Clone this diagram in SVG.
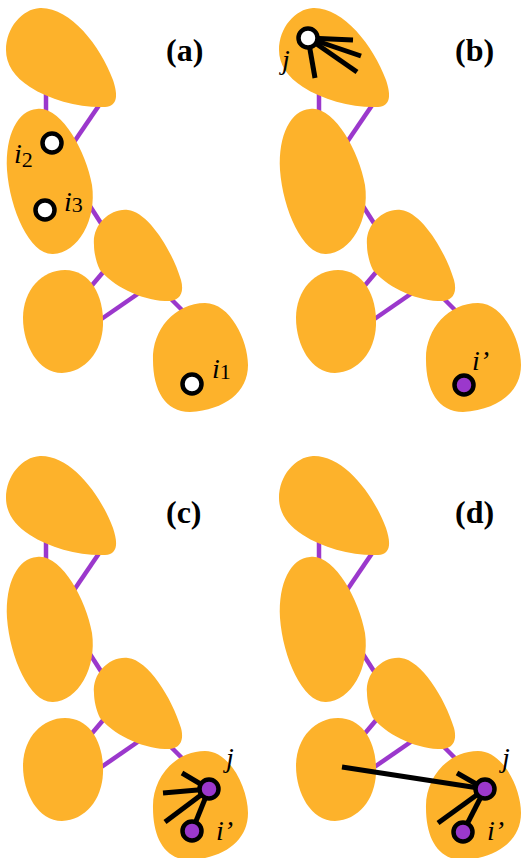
<svg xmlns="http://www.w3.org/2000/svg" xmlns:xlink="http://www.w3.org/1999/xlink" width="521" height="858" viewBox="0 0 521 858">
<style>
.blob{fill:#fdb22b}
.edge{stroke:#9b38cc;stroke-width:4.5;fill:none}
.ray{stroke:#000;stroke-width:5;fill:none}
.nw{fill:#fff;stroke:#000;stroke-width:4.5}
.np{fill:#9b38cc;stroke:#000;stroke-width:4.5}
.lbl{font-family:"Liberation Serif","Times New Roman",serif;font-style:italic;font-size:28px;fill:#000}
.sub{font-style:normal;font-size:22px}
.ttl{font-family:"Liberation Serif","Times New Roman",serif;font-weight:bold;font-size:32px;fill:#000}
</style>
<defs>
<path id="s1" d="M 6,50 C 6,28 22,9 40,8 C 70,7 100,45 113,80 C 118,95 118,106 105,107 C 80,108 50,100 30,87 C 14,77 6,64 6,50 Z"/>
<path id="s2" d="M 37,109 C 60,105 86,150 92,185 C 97,220 78,253 53,254 C 30,255 10,210 7,170 C 5,135 18,110 37,109 Z"/>
<path id="s3" d="M 94,245 C 92,225 110,208 128,210 C 148,212 172,250 181,280 C 185,295 178,302 165,301 C 140,300 112,285 100,270 C 96,262 94,252 94,245 Z"/>
<path id="s4" d="M 23,318 C 23,290 42,270 65,270 C 90,270 104,295 103,325 C 102,352 85,372 62,373 C 38,373 23,345 23,318 Z"/>
<path id="s5" d="M 153,360 C 152,330 175,303 205,303 C 230,303 248,340 248,365 C 248,392 225,410 190,412 C 165,412 153,390 153,360 Z"/>
<g id="edgeset">
<line x1="46" y1="90" x2="46" y2="115"/>
<line x1="104" y1="98" x2="72" y2="145"/>
<line x1="88" y1="203" x2="106" y2="231"/>
<line x1="110" y1="264" x2="88" y2="290"/>
<line x1="100" y1="320" x2="142" y2="291"/>
<line x1="165" y1="293" x2="187" y2="315"/>
</g>
</defs>

<g id="connectors" class="edge">
<use xlink:href="#edgeset"/>
<use xlink:href="#edgeset" transform="translate(273,0)"/>
<use xlink:href="#edgeset" transform="translate(0,448)"/>
<use xlink:href="#edgeset" transform="translate(273,448)"/>
</g>

<g id="panel-a">
<g id="a-n1" class="blob"><use xlink:href="#s1"/></g>
<g id="a-n2" class="blob"><use xlink:href="#s2"/></g>
<g id="a-n3" class="blob"><use xlink:href="#s3"/></g>
<g id="a-n4" class="blob"><use xlink:href="#s4"/></g>
<g id="a-n5" class="blob"><use xlink:href="#s5"/></g>
</g>
<g id="panel-b" transform="translate(273,0)">
<g id="b-n1" class="blob"><use xlink:href="#s1"/></g>
<g id="b-n2" class="blob"><use xlink:href="#s2"/></g>
<g id="b-n3" class="blob"><use xlink:href="#s3"/></g>
<g id="b-n4" class="blob"><use xlink:href="#s4"/></g>
<g id="b-n5" class="blob"><use xlink:href="#s5"/></g>
</g>
<g id="panel-c" transform="translate(0,448)">
<g id="c-n1" class="blob"><use xlink:href="#s1"/></g>
<g id="c-n2" class="blob"><use xlink:href="#s2"/></g>
<g id="c-n3" class="blob"><use xlink:href="#s3"/></g>
<g id="c-n4" class="blob"><use xlink:href="#s4"/></g>
<g id="c-n5" class="blob"><use xlink:href="#s5"/></g>
</g>
<g id="panel-d" transform="translate(273,448)">
<g id="d-n1" class="blob"><use xlink:href="#s1"/></g>
<g id="d-n2" class="blob"><use xlink:href="#s2"/></g>
<g id="d-n3" class="blob"><use xlink:href="#s3"/></g>
<g id="d-n4" class="blob"><use xlink:href="#s4"/></g>
<g id="d-n5" class="blob"><use xlink:href="#s5"/></g>
</g>

<g id="links" class="ray">
<line x1="308" y1="38" x2="353" y2="40"/>
<line x1="308" y1="38" x2="361" y2="56"/>
<line x1="308" y1="38" x2="357" y2="72"/>
<line x1="308" y1="38" x2="315" y2="78"/>
<line x1="209" y1="789" x2="182" y2="773"/>
<line x1="209" y1="789" x2="163" y2="793"/>
<line x1="209" y1="789" x2="165" y2="822"/>
<line x1="209" y1="789" x2="192" y2="831"/>
<line x1="485" y1="789" x2="342" y2="767"/>
<line x1="485" y1="789" x2="457" y2="773"/>
<line x1="485" y1="789" x2="438" y2="823"/>
<line x1="485" y1="789" x2="463" y2="832"/>
</g>

<g id="node-i2"><circle class="nw" cx="52" cy="143" r="9.5"/><text class="lbl" x="14" y="163">i<tspan class="sub" dy="4">2</tspan></text></g>
<g id="node-i3"><circle class="nw" cx="45" cy="210" r="9.5"/><text class="lbl" x="64" y="211">i<tspan class="sub" dy="1">3</tspan></text></g>
<g id="node-i1"><circle class="nw" cx="192" cy="384" r="9.5"/><text class="lbl" x="212" y="378">i<tspan class="sub" dy="1">1</tspan></text></g>
<g id="node-b-j"><circle class="nw" cx="308" cy="38" r="9.5"/><text class="lbl" x="282" y="69">j</text></g>
<g id="node-b-i"><circle class="np" cx="464" cy="385" r="9.5"/><text class="lbl" x="472" y="370">i’</text></g>
<g id="node-c-j"><circle class="np" cx="209" cy="789" r="9.5"/><text class="lbl" x="226" y="767">j</text></g>
<g id="node-c-i"><circle class="np" cx="192" cy="831" r="9.5"/><text class="lbl" x="216" y="840">i’</text></g>
<g id="node-d-j"><circle class="np" cx="485" cy="789" r="9.5"/><text class="lbl" x="502" y="767">j</text></g>
<g id="node-d-i"><circle class="np" cx="463" cy="832" r="9.5"/><text class="lbl" x="487" y="840">i’</text></g>

<text class="ttl" x="166" y="61">(a)</text>
<text class="ttl" x="455" y="61">(b)</text>
<text class="ttl" x="166" y="523">(c)</text>
<text class="ttl" x="455" y="523">(d)</text>
</svg>
